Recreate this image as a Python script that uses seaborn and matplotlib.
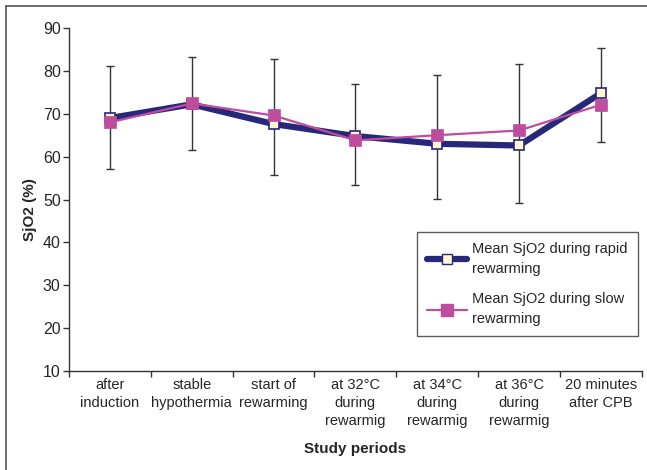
import matplotlib
matplotlib.use("Agg")
import matplotlib.pyplot as plt
import seaborn as sns
import pandas as pd
import numpy as np
from matplotlib.lines import Line2D

categories = ["after\ninduction", "stable\nhypothermia", "start of\nrewarming",
              "at 32°C\nduring\nrewarmig", "at 34°C\nduring\nrewarmig",
              "at 36°C\nduring\nrewarmig", "20 minutes\nafter CPB"]
rapid = [69.0, 72.2, 67.6, 64.8, 63.0, 62.6, 74.8]
slow = [68.0, 72.4, 69.6, 63.8, 65.0, 66.1, 72.1]
err_high = [81.2, 83.3, 82.7, 76.9, 79.1, 81.7, 85.3]
err_low = [57.2, 61.6, 55.7, 53.4, 50.2, 49.1, 63.3]
yticks = [10, 20, 30, 40, 50, 60, 70, 80, 90]

rapid_label = "Mean SjO2 during rapid\nrewarming"
slow_label = "Mean SjO2 during slow\nrewarming"

sns.set_theme(style="white")
plt.rcParams['font.family'] = ['Liberation Sans', 'DejaVu Sans']

fig = plt.figure(figsize=(6.47, 4.70), dpi=100)
ax = fig.add_axes([0.1066, 0.2106, 0.8854, 0.7298])

pos = np.arange(len(categories))
df = pd.DataFrame({
    "pos": np.concatenate([pos, pos]),
    "value": rapid + slow,
    "series": [rapid_label] * len(pos) + [slow_label] * len(pos),
})

# error bars (one set, drawn behind)
mid = (np.array(err_high) + np.array(err_low)) / 2
ax.errorbar(pos, mid, yerr=[mid - np.array(err_low), np.array(err_high) - mid],
            fmt="none", ecolor="#333333", elinewidth=1.0, capsize=3, capthick=1.0, zorder=1)

navy = "#28287A"
mag = "#C04C9E"
sns.lineplot(data=df[df.series == rapid_label], x="pos", y="value", ax=ax,
             color=navy, lw=4.5, marker="s", markersize=7.5,
             markerfacecolor="#FFF8D0", markeredgecolor=navy, markeredgewidth=1.2,
             zorder=3, legend=False)
sns.lineplot(data=df[df.series == slow_label], x="pos", y="value", ax=ax,
             color=mag, lw=1.6, marker="s", markersize=8.5,
             markerfacecolor=mag, markeredgecolor=mag, markeredgewidth=0.5,
             zorder=4, legend=False)

ax.set_xlim(-0.5, len(categories) - 0.5)
ax.set_ylim(10, 90)
ax.set_yticks(yticks)
ax.set_yticklabels([str(t) for t in yticks], fontsize=11.5)
ax.set_xticks(pos)
ax.set_xticklabels(categories, fontsize=10.5, linespacing=1.35)
ax.set_xticks(np.arange(-0.5, len(categories)), minor=True)
ax.tick_params(axis="x", which="major", length=0, pad=5)
ax.tick_params(axis="x", which="minor", length=4, width=1, color="#333333", direction="out", bottom=True)
ax.tick_params(axis="y", length=4, width=1, color="#333333", direction="out", left=True, pad=2)

for s in ["top", "right"]:
    ax.spines[s].set_visible(False)
for s in ["left", "bottom"]:
    ax.spines[s].set_color("#333333")
    ax.spines[s].set_linewidth(1.0)

ax.set_xlabel("Study periods", fontsize=11, fontweight="bold", labelpad=10)
ax.set_ylabel("SjO2 (%)", fontsize=11, fontweight="bold")
ax.yaxis.set_label_coords(-0.055, 0.472)

handles = [
    Line2D([], [], color=navy, lw=4.5, marker="s", markersize=7.5,
           markerfacecolor="#FFF8D0", markeredgecolor=navy),
    Line2D([], [], color=mag, lw=1.6, marker="s", markersize=8.5,
           markerfacecolor=mag, markeredgecolor=mag),
]
leg = ax.legend(handles, [rapid_label, slow_label], loc="lower left",
                bbox_to_anchor=(0.607, 0.102, 0.386, 0.405), mode="expand",
                fontsize=10.5, frameon=True, fancybox=False, handlelength=2.75,
                borderaxespad=0, labelspacing=1.15, borderpad=0.69, handletextpad=0.35)
for t in leg.get_texts():
    t.set_linespacing(1.5)
leg.get_frame().set_edgecolor("#333333")
leg.get_frame().set_linewidth(1.0)

# outer frame (left and top edges)
fig.add_artist(Line2D([6 / 647, 6 / 647], [0, 1 - 6 / 470], transform=fig.transFigure,
                      color="#555555", lw=1.2))
fig.add_artist(Line2D([6 / 647, 1], [1 - 6 / 470, 1 - 6 / 470], transform=fig.transFigure,
                      color="#555555", lw=1.2))

fig.savefig("out.png", dpi=100)
